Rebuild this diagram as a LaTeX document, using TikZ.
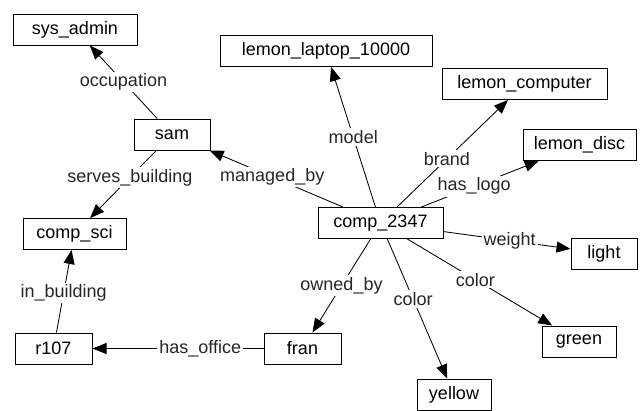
\documentclass[tikz,border=0pt]{standalone}
\usepackage{fontspec}
\setmainfont{Liberation Sans}
\usetikzlibrary{arrows.meta}

\tikzset{
  box/.style={draw, line width=1pt, minimum height=31pt, inner sep=2pt,
    font=\fontsize{18}{21}\selectfont},
  rel/.style={fill=white, inner sep=2pt, text=black!85,
    font=\fontsize{18}{21}\selectfont},
  link/.style={line width=0.85pt, -{Triangle[length=14pt,width=11pt]}}
}

\begin{document}
\begin{tikzpicture}[x=1pt, y=-1pt]

    \useasboundingbox (0,0) rectangle (640,410);

    % Nodes
    \node[box, minimum width=124pt] (sysadmin) at (75,29.5) {sys\_admin};
    \node[box, minimum width=76pt] (sam) at (172,134.5) {sam};
    \node[box, minimum width=212pt] (laptop) at (326,51) {lemon\_laptop\_10000};
    \node[box, minimum width=165pt] (computer) at (524.5,84) {lemon\_computer};
    \node[box, minimum width=113pt] (disc) at (579.5,145) {lemon\_disc};
    \node[box, minimum width=103pt] (compsci) at (74.5,234) {comp\_sci};
    \node[box, minimum width=77pt] (room) at (53.5,348.5) {r107};
    \node[box, minimum width=77pt] (fran) at (302.5,348.5) {fran};
    \node[box, minimum width=125pt] (comp) at (380.5,223) {comp\_2347};
    \node[box, minimum width=66pt] (light) at (604,253.5) {light};
    \node[box, minimum width=74pt] (green) at (579,341.5) {green};
    \node[box, minimum width=74pt] (yellow) at (454,394.5) {yellow};

    % Relations of sam
    \draw[link] (sam) -- node[rel] {occupation} (sysadmin);
    \draw[link] (sam) -- node[rel, pos=0.4] {serves\_building} (compsci);

    % Relations of comp_2347
    \draw[link] (comp) -- node[rel, pos=0.53] {managed\_by} (sam);
    \draw[link] (comp) -- node[rel] {model} (laptop);
    \draw[link] (comp) -- node[rel, pos=0.45] {brand} (computer);
    \draw[link] (comp) -- node[rel, pos=0.45] {has\_logo} (disc);
    \draw[link] (comp) -- node[rel, pos=0.52] {weight} (light);
    \draw[link] (comp) -- node[rel, pos=0.47] {color} (green);
    \draw[link] (comp) -- node[rel, pos=0.43] {color} (yellow);
    \draw[link] (comp) -- node[rel] {owned\_by} (fran);

    % Rooms and buildings
    \draw[link] (fran) -- node[rel, pos=0.37] {has\_office} (room);
    \draw[link] (room) -- node[rel, pos=0.48] {in\_building} (compsci);

\end{tikzpicture}
\end{document}
